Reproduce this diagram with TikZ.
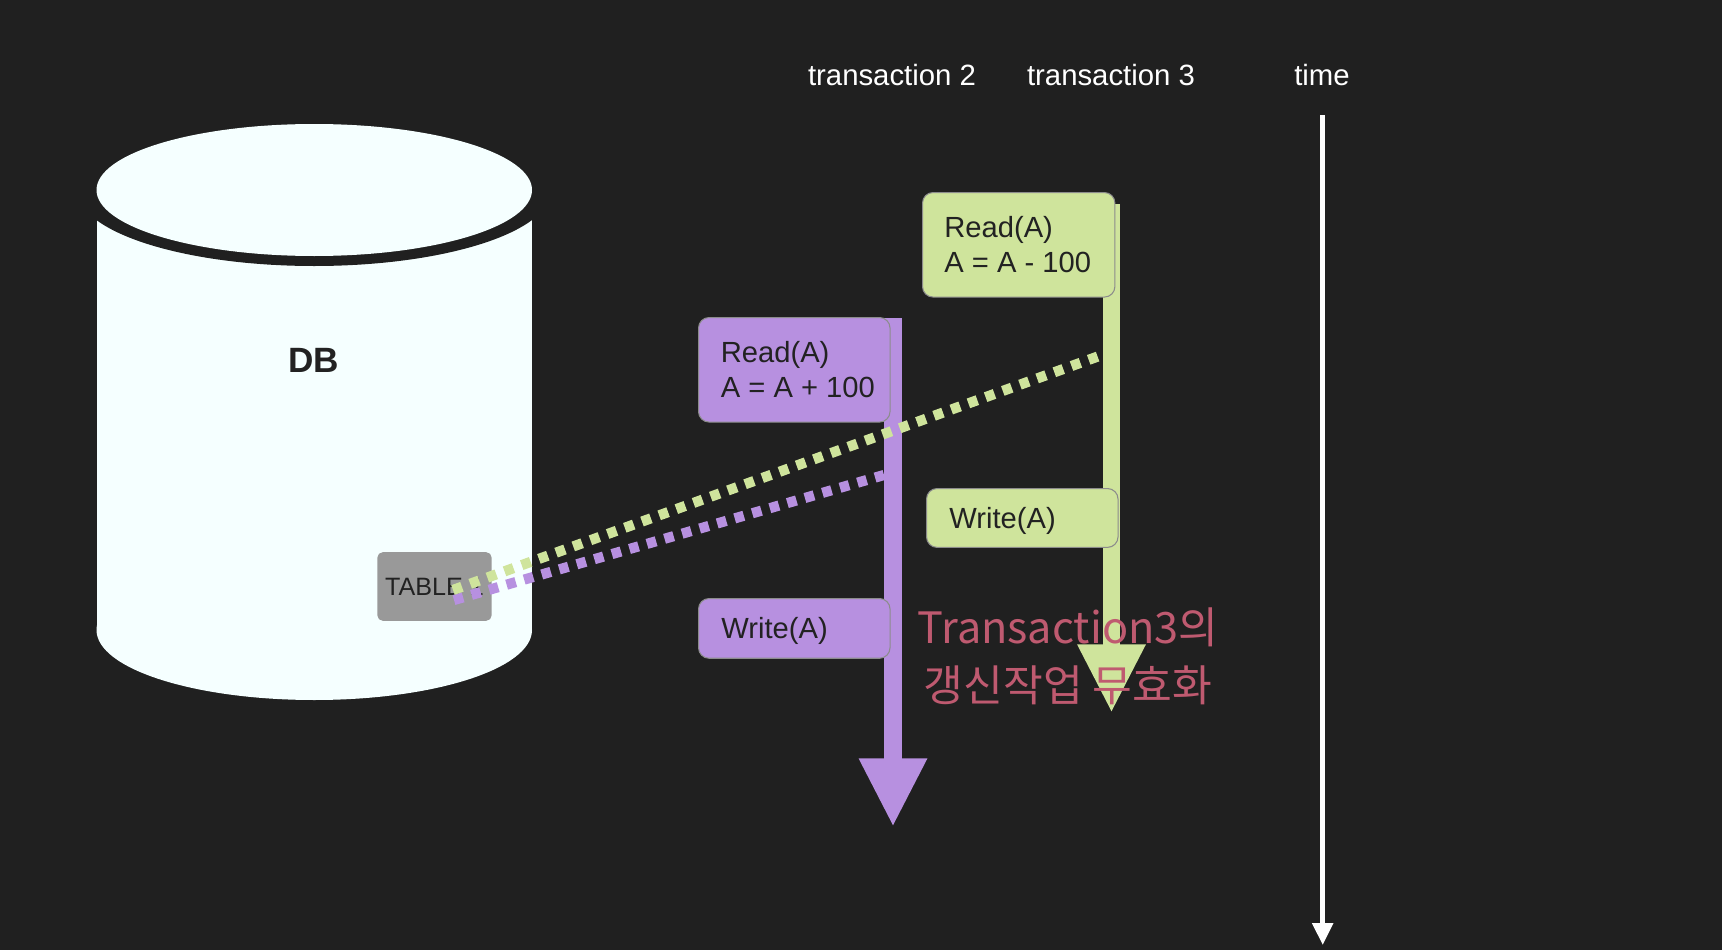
\documentclass[tikz,border=0pt]{standalone}
\usepackage{fontspec}
\setmainfont{Liberation Sans}
\newfontfamily\krfont{Noto Sans CJK KR}
\usetikzlibrary{arrows.meta}
\definecolor{bgdark}{HTML}{202020}
\definecolor{dbwhite}{HTML}{F5FFFF}
\definecolor{tabgray}{HTML}{999999}
\definecolor{txgreen}{HTML}{CFE49C}
\definecolor{txpurple}{HTML}{B790E0}
\definecolor{warnred}{HTML}{BF5A70}
\definecolor{inktext}{HTML}{222222}
\tikzset{
  opbox/.style={draw=black!45,line width=0.6pt,rounded corners=6pt,inner sep=0pt,anchor=north west},
  optext/.style={text=inktext,font=\fontsize{16.6}{19.8}\selectfont,align=left,inner sep=0pt,anchor=base west},
  headtext/.style={text=white,font=\fontsize{16.7}{20}\selectfont,inner sep=0pt},
  txarrow/.style={line width=10pt,-{Triangle[length=39pt,width=36pt]}},
  dotline/.style={line width=5.8pt,dash pattern=on 5.4pt off 5pt},
}
\begin{document}
\begin{tikzpicture}[x=0.02cm,y=-0.02cm]
\useasboundingbox (0,0) rectangle (1722,950);
\fill[bgdark] (0,0) rectangle (1722,950);

% ---- database cylinder ----
\fill[dbwhite] (96.5,190) rectangle (532,630);
\fill[dbwhite] (314.25,630) ellipse [x radius=217.75,y radius=70];
\fill[bgdark] (314.25,190) ellipse [x radius=237,y radius=76];
\fill[dbwhite] (314.25,190) ellipse [x radius=217.75,y radius=66];
\node[inner sep=0pt,text=inktext,font=\fontsize{20}{22}\selectfont\bfseries] (dbname) at (314,360) {DB};

\node[fill=tabgray,rounded corners=3pt,minimum width=65pt,minimum height=39pt,inner sep=0pt,
      text=inktext,font=\fontsize{14.3}{16}\selectfont] (table1) at (434.5,586.5) {TABLE 1};

% ---- headings ----
\node[headtext] (head2) at (892,75) {transaction 2};
\node[headtext] (head3) at (1111,75) {transaction 3};
\node[headtext] (headtime) at (1322,75) {time};

% ---- time axis ----
\coordinate (timetop) at (1322.7,115);
\coordinate (timeend) at (1322.7,945);
\draw[white,line width=2.8pt,-{Triangle[length=12.5pt,width=11.5pt]}] (timetop) -- (timeend);

% ---- transaction 3 ----
\coordinate (green0) at (1111.5,204);
\coordinate (green1) at (1111.5,713);
\draw[txgreen,txarrow] (green0) -- (green1);
\node[opbox,fill=txgreen,minimum width=109.5pt,minimum height=59.5pt] (read3) at (922,192) {};
\node[optext] (read3text) at (944,272) {Read(A)\\A = A - 100};
\node[opbox,fill=txgreen,minimum width=109pt,minimum height=33.5pt] (write3) at (926,488) {};
\node[optext] (write3text) at (949,528) {Write(A)};

% ---- transaction 2 ----
\coordinate (purple0) at (893,318);
\coordinate (purple1) at (893,827);
\draw[txpurple,txarrow] (purple0) -- (purple1);
\node[opbox,fill=txpurple,minimum width=109pt,minimum height=59.5pt] (read2) at (698,317) {};
\node[optext] (read2text) at (720.5,397) {Read(A)\\A = A + 100};
\node[opbox,fill=txpurple,minimum width=109pt,minimum height=34pt] (write2) at (698,598) {};
\node[optext] (write2text) at (721,638) {Write(A)};

% ---- dotted links to the table ----
\coordinate (linkgreen) at (453,590);
\coordinate (linkpurple) at (454,600);
\coordinate (markgreen) at (1102,355);
\coordinate (markpurple) at (884,475);
\draw[txpurple,dotline] (linkpurple) -- (markpurple);
\draw[txgreen,dotline] (linkgreen) -- (markgreen);

% ---- note ----
\node[text=warnred,font=\krfont\fontsize{24.6}{33}\selectfont,align=center,inner sep=0pt] (note) at (1068,656) {Transaction3의\\갱신작업 무효화};
\end{tikzpicture}
\end{document}
